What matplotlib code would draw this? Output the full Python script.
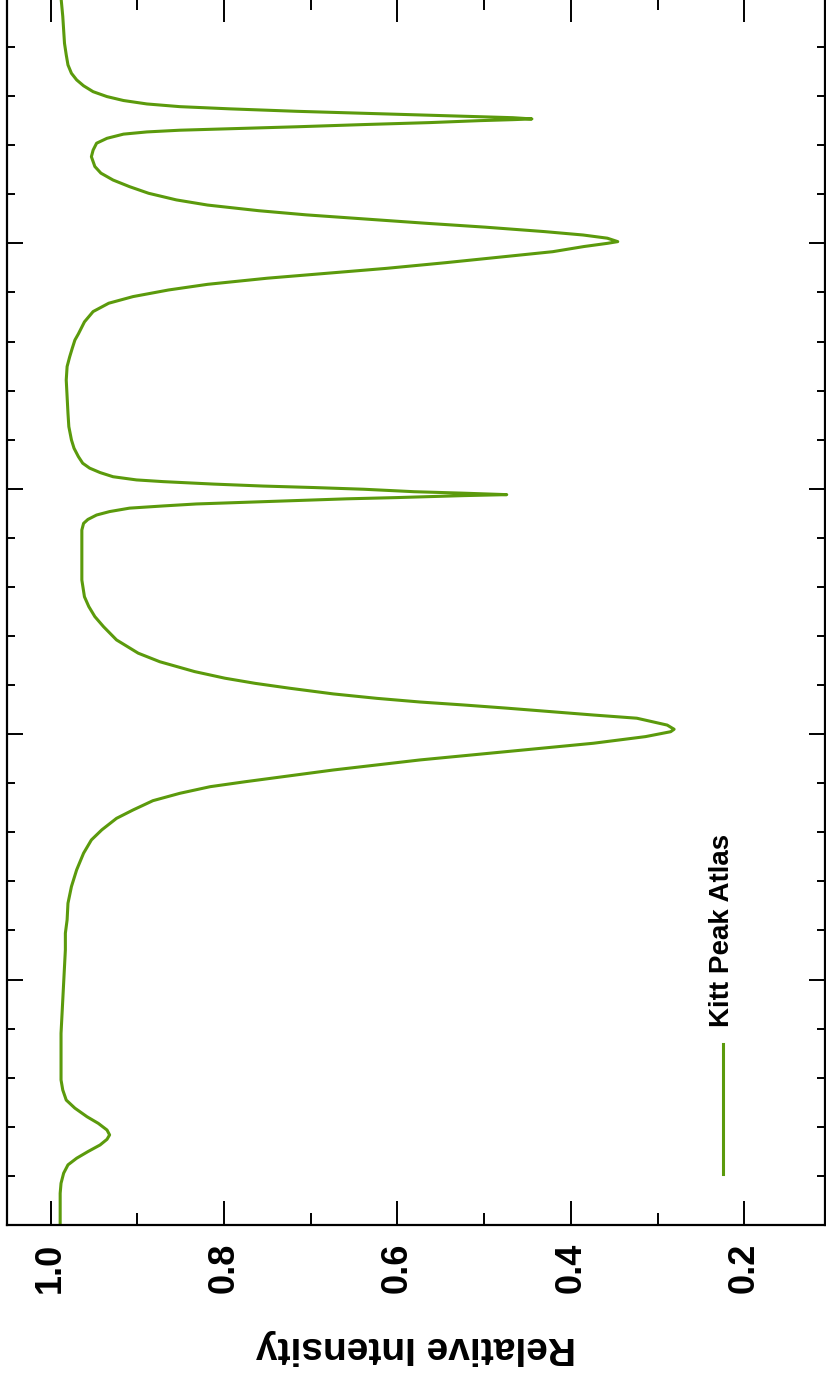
import matplotlib
matplotlib.use("Agg")
import matplotlib.pyplot as plt
from matplotlib.lines import Line2D
from matplotlib.ticker import MultipleLocator

plt.rcParams['font.family'] = ['Liberation Sans', 'DejaVu Sans']

# wavelength offset (axis runs vertically) and relative intensity
wavelength = [0.000, 0.129, 0.170, 0.211, 0.245, 0.272, 0.299, 0.326, 0.349, 0.367,
              0.387, 0.414, 0.441, 0.476, 0.509, 0.550, 0.591, 0.645, 0.713, 0.781,
              0.849, 0.917, 0.985, 1.053, 1.121, 1.189, 1.243, 1.311, 1.379, 1.447,
              1.515, 1.569, 1.610, 1.657, 1.691, 1.729, 1.759, 1.786, 1.806, 1.854,
              1.895, 1.929, 1.963, 1.990, 2.010, 2.020, 2.037, 2.050, 2.065, 2.078,
              2.092, 2.106, 2.119, 2.131, 2.146, 2.164, 2.187, 2.207, 2.228, 2.255,
              2.295, 2.330, 2.384, 2.438, 2.479, 2.520, 2.560, 2.628, 2.696, 2.764,
              2.832, 2.859, 2.875, 2.893, 2.907, 2.921, 2.930, 2.938, 2.945, 2.952,
              2.959, 2.964, 2.972, 2.976, 2.982, 2.988, 2.998, 3.005, 3.011, 3.019,
              3.029, 3.036, 3.049, 3.066, 3.084, 3.104, 3.131, 3.165, 3.199, 3.253,
              3.308, 3.375, 3.443, 3.498, 3.538, 3.573, 3.606, 3.631, 3.652, 3.680,
              3.722, 3.756, 3.783, 3.810, 3.833, 3.858, 3.878, 3.898, 3.921, 3.946,
              3.966, 3.987, 4.000, 4.007, 4.021, 4.034, 4.048, 4.066, 4.082, 4.099,
              4.116, 4.133, 4.156, 4.177, 4.204, 4.231, 4.258, 4.286, 4.313, 4.353,
              4.380, 4.408, 4.428, 4.445, 4.454, 4.461, 4.467, 4.475, 4.484, 4.492,
              4.500, 4.504, 4.507, 4.512, 4.516, 4.522, 4.530, 4.538, 4.548, 4.557,
              4.568, 4.582, 4.598, 4.618, 4.642, 4.666, 4.693, 4.727, 4.768, 4.815,
              4.870, 4.925, 4.965, 5.000]
intensity = [0.989, 0.989, 0.988, 0.985, 0.980, 0.970, 0.957, 0.943, 0.935, 0.932,
             0.935, 0.945, 0.958, 0.972, 0.982, 0.986, 0.988, 0.988, 0.988, 0.988,
             0.987, 0.986, 0.985, 0.984, 0.983, 0.983, 0.981, 0.980, 0.976, 0.970,
             0.962, 0.953, 0.941, 0.924, 0.905, 0.882, 0.851, 0.816, 0.776, 0.674,
             0.574, 0.474, 0.374, 0.314, 0.285, 0.281, 0.289, 0.305, 0.324, 0.374,
             0.424, 0.474, 0.524, 0.574, 0.624, 0.674, 0.724, 0.764, 0.799, 0.834,
             0.874, 0.899, 0.924, 0.939, 0.949, 0.956, 0.961, 0.964, 0.964, 0.964,
             0.964, 0.962, 0.957, 0.947, 0.932, 0.909, 0.870, 0.832, 0.774, 0.716,
             0.658, 0.601, 0.524, 0.474, 0.524, 0.581, 0.639, 0.697, 0.755, 0.812,
             0.870, 0.901, 0.928, 0.943, 0.955, 0.963, 0.968, 0.973, 0.976, 0.979,
             0.980, 0.981, 0.982, 0.981, 0.978, 0.975, 0.972, 0.968, 0.965, 0.961,
             0.951, 0.933, 0.905, 0.864, 0.819, 0.750, 0.682, 0.613, 0.545, 0.476,
             0.421, 0.385, 0.358, 0.346, 0.358, 0.386, 0.431, 0.499, 0.568, 0.636,
             0.705, 0.760, 0.819, 0.855, 0.887, 0.909, 0.928, 0.942, 0.949, 0.953,
             0.951, 0.947, 0.935, 0.916, 0.889, 0.851, 0.793, 0.716, 0.639, 0.563,
             0.505, 0.467, 0.445, 0.467, 0.505, 0.563, 0.639, 0.716, 0.793, 0.851,
             0.889, 0.916, 0.935, 0.951, 0.962, 0.970, 0.976, 0.980, 0.982, 0.984,
             0.985, 0.986, 0.987, 0.988]

intensity_ticks = [1.0, 0.8, 0.6, 0.4, 0.2]
intensity_labels = ['1.0', '0.8', '0.6', '0.4', '0.2']
series_name = 'Kitt Peak Atlas'
green = '#5b9a0c'

fig = plt.figure(figsize=(8.26, 13.77), dpi=100)
ax = fig.add_axes([0.0088, 0.1104, 0.990, 0.8911])

ax.plot(intensity, wavelength, color=green, lw=2.2, solid_joinstyle='round')

ax.set_xlim(1.05, 0.107)
ax.set_ylim(0, 5)

ax.set_xticks(intensity_ticks)
ax.set_xticklabels(intensity_labels, rotation=90, fontsize=26, fontweight='bold')
ax.xaxis.set_minor_locator(MultipleLocator(0.1))
ax.yaxis.set_major_locator(MultipleLocator(1))
ax.yaxis.set_minor_locator(MultipleLocator(0.2))
ax.set_yticklabels([])

ax.tick_params(axis='x', which='both', direction='in', top=True, bottom=True, width=1.4, pad=13)
ax.tick_params(axis='x', which='major', length=17)
ax.tick_params(axis='x', which='minor', length=8.5)
ax.tick_params(axis='y', which='both', direction='in', left=True, right=True, width=1.4,
               labelleft=False)
ax.tick_params(axis='y', which='major', length=11.5)
ax.tick_params(axis='y', which='minor', length=6)
for s in ax.spines.values():
    s.set_linewidth(1.6)

ax.set_xlabel('Relative Intensity', fontsize=28, fontweight='bold', rotation=180)
ax.xaxis.set_label_coords(0.5, -0.0994)
ax.xaxis.label.set_va('center')

# hand-drawn legend (rotated like the rest of the figure)
ax.add_line(Line2D([0.8756, 0.8756], [0.0416, 0.1475], transform=ax.transAxes,
                   color=green, lw=2.2))
ax.text(0.8737, 0.1614, series_name, transform=ax.transAxes, rotation=90,
        ha='center', va='bottom', fontsize=20, fontweight='bold')

fig.savefig('out.png', dpi=100)
